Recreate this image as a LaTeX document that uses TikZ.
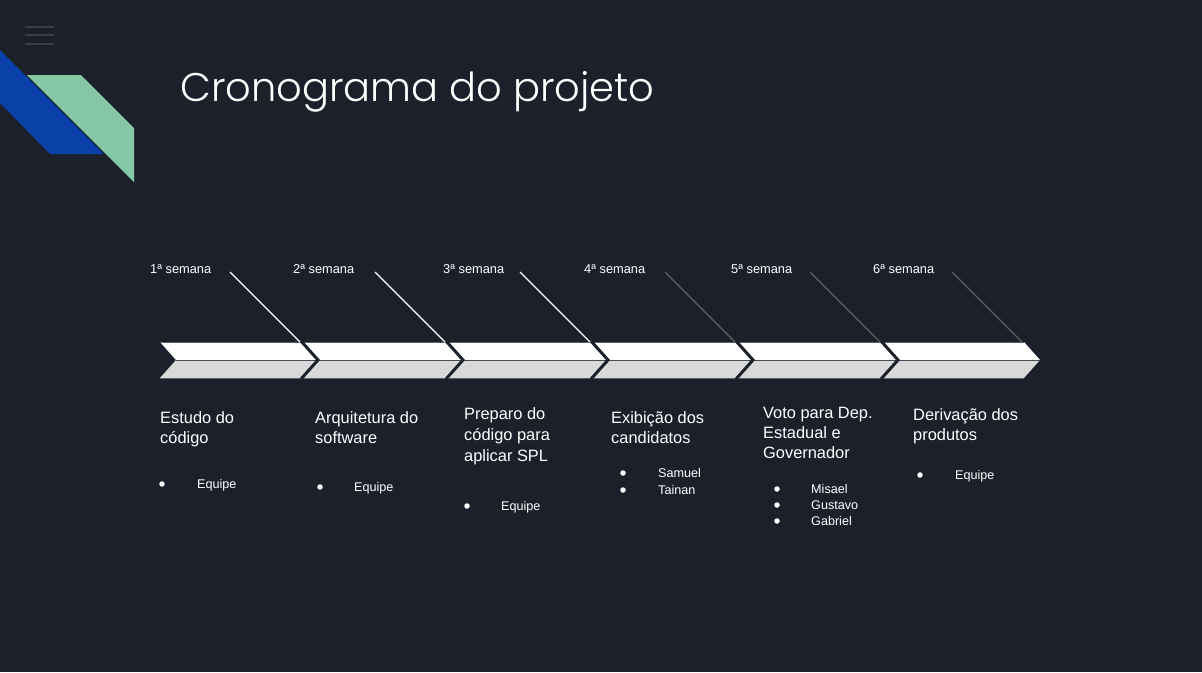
\documentclass[tikz,border=0pt]{standalone}
\usepackage{fontspec}
\setmainfont{Liberation Sans}
\newfontfamily\titlefont{Poppins Light}
\definecolor{bg}{HTML}{1B202B}
\definecolor{menuc}{HTML}{363D4B}
\definecolor{blueband}{HTML}{0A41A8}
\definecolor{greenband}{HTML}{84C8A5}
\definecolor{chevgrey}{HTML}{D9D9D9}
\definecolor{edgegrey}{HTML}{5B606B}
\definecolor{midgrey}{HTML}{474C57}
\definecolor{dimline}{HTML}{5A606C}
\tikzset{
  week/.style={anchor=base west, inner sep=0pt, text=white, font=\fontsize{12.8}{14}\selectfont},
  ttl/.style={anchor=base west, inner sep=0pt, text=white, font=\fontsize{16.4}{20}\selectfont},
  item/.style={anchor=base west, inner sep=0pt, text=white, font=\fontsize{12.6}{14}\selectfont},
  dot/.style={circle, fill=white, inner sep=0pt, minimum size=5.5pt},
}
\begin{document}
\begin{tikzpicture}[x=1pt,y=-1pt]
\fill[bg] (0,0) rectangle (1202,672);
\useasboundingbox (0,0) rectangle (1202,672);
% menu icon
\foreach \yy in {27,35,44} \draw[menuc, line width=2pt] (25,\yy) -- (54,\yy);
% decorative bands
\fill[blueband] (0,50) -- (104,154) -- (50,154) -- (0,103) -- cycle;
\fill[greenband] (27,75) -- (81,75) -- (134,128) -- (134,182) -- cycle;
% title
\node[anchor=base west, inner sep=0pt, text=white, font=\titlefont\fontsize{40}{44}\selectfont] (title) at (180,101) {Cronograma do projeto};
% chevrons
\foreach \L/\R [count=\k] in {160/302,302/447,447/592,592/737,737/882,882/1024}{
  \fill[white] (\L,342) -- (\R,342) -- (\R+16,360) -- (\L+16,360) -- cycle;
  \fill[chevgrey] (\L+16,360) -- (\R+16,360) -- (\R,378) -- (\L,378) -- cycle;
  \draw[midgrey, line width=1.5pt] (\L+16,360.5) -- (\R+16,360.5);
  \draw[edgegrey, line width=1pt] (\L,342) -- (\R,342);
  \draw[edgegrey, line width=1pt] (\L,378) -- (\R,378);
}
\foreach \R in {302,447,592,737,882}{
  \draw[bg, line width=3pt, line join=miter] (\R-1,341) -- (\R+16,360) -- (\R-1,379);
}
% week labels and pointer lines
\foreach \x/\tip/\lab/\col [count=\k] in {150/318/1/white,293/463/2/white,443/608/3/white,584/753/4/dimline,731/898/5/dimline,873/1040/6/dimline}{
  \node[week] (w\k) at (\x,273) {\lab ª semana};
  \coordinate (ws\k) at (\tip-88,272);
  \coordinate (we\k) at (\tip-18,342);
  \draw[\col, line width=1.3pt] (ws\k) -- (we\k);
}
% block 1
\node[ttl] (a1) at (160,423) {Estudo do};
\node[ttl] (a2) at (160,443) {código};
\node[dot] (ad1) at (162,484) {};
\node[item] (ai1) at (197,488) {Equipe};
% block 2
\node[ttl] (b1) at (315,423) {Arquitetura do};
\node[ttl] (b2) at (315,443) {software};
\node[dot] (bd1) at (320,487) {};
\node[item] (bi1) at (354,491) {Equipe};
% block 3
\node[ttl] (c1) at (464,419) {Preparo do};
\node[ttl] (c2) at (464,440) {código para};
\node[ttl] (c3) at (464,461) {aplicar SPL};
\node[dot] (cd1) at (467,506) {};
\node[item] (ci1) at (501,510) {Equipe};
% block 4
\node[ttl] (d1) at (611,423) {Exibição dos};
\node[ttl] (d2) at (611,443) {candidatos};
\node[dot] (dd1) at (623,473) {};
\node[item] (di1) at (658,477) {Samuel};
\node[dot] (dd2) at (623,490) {};
\node[item] (di2) at (658,494) {Tainan};
% block 5
\node[ttl] (e1) at (763,418) {Voto para Dep.};
\node[ttl] (e2) at (763,438) {Estadual e};
\node[ttl] (e3) at (763,458) {Governador};
\node[dot] (ed1) at (777,489) {};
\node[item] (ei1) at (811,493) {Misael};
\node[dot] (ed2) at (777,505) {};
\node[item] (ei2) at (811,509) {Gustavo};
\node[dot] (ed3) at (777,521) {};
\node[item] (ei3) at (811,525) {Gabriel};
% block 6
\node[ttl] (f1) at (913,420) {Derivação dos};
\node[ttl] (f2) at (913,440) {produtos};
\node[dot] (fd1) at (920,475) {};
\node[item] (fi1) at (955,479) {Equipe};
\end{tikzpicture}
\end{document}
